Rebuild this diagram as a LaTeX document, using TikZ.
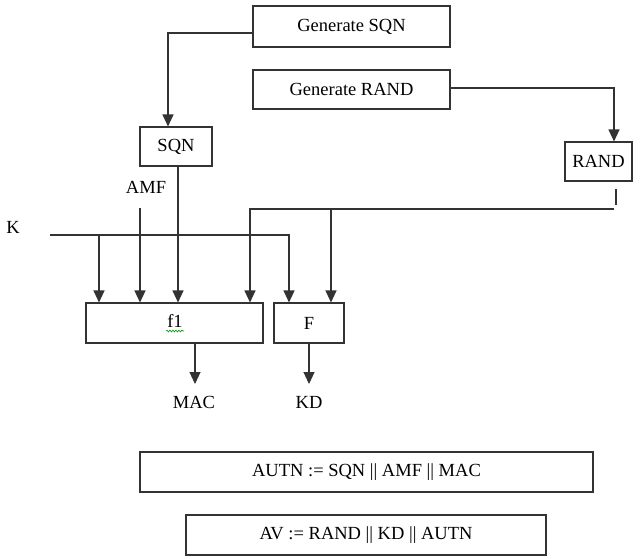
\documentclass[tikz,border=0pt]{standalone}
\usepackage{fontspec}
\setmainfont{Liberation Serif}
\usetikzlibrary{arrows.meta,decorations.pathmorphing}
\definecolor{ink}{HTML}{333333}
\tikzset{
  box/.style={draw=ink, line width=1.1pt, inner sep=0pt, font=\fontsize{18.5}{22}\selectfont},
  lbl/.style={inner sep=0pt, font=\fontsize{18.5}{22}\selectfont},
  wire/.style={draw=ink, line width=1.1pt},
  arr/.style={wire, -{Triangle[width=11pt,length=12pt]}},
}
\begin{document}
\begin{tikzpicture}[x=1pt, y=-1pt]
\useasboundingbox (0,0) rectangle (644,558);

% generators
\node[box, minimum width=197pt, minimum height=41pt] (gsqn)  at (351.5,26.5) {Generate SQN};
\node[box, minimum width=197pt, minimum height=39pt] (grand) at (351.5,89.5) {Generate RAND};

% stored values
\node[box, minimum width=72pt, minimum height=39pt] (sqn)  at (176,146.5) {SQN};
\node[box, minimum width=67pt, minimum height=39pt] (rand) at (598.5,161.5) {RAND};

% functions
\node[box, minimum width=177pt, minimum height=40pt] (f1) at (174.5,323) {};
\node[lbl] (f1txt) at (175,321) {f1};
\node[box, minimum width=70pt, minimum height=40pt] (F) at (309,323) {F};

% input labels
\node[lbl] (K)   at (13,227)  {K};
\node[lbl] (AMF) at (146,187) {AMF};

% outputs
\node[lbl] (MAC) at (194,402) {MAC};
\node[lbl] (KD)  at (309,402) {KD};

% results
\node[box, minimum width=453pt, minimum height=40pt] (autn) at (366.5,472) {AUTN := SQN || AMF || MAC};
\node[box, minimum width=360pt, minimum height=40pt] (av)   at (366,535)   {AV := RAND || KD || AUTN};

% spelling mark under f1
\draw[green!60!black, line width=0.6pt, decorate,
      decoration={snake, amplitude=0.9pt, segment length=3pt}]
  (166,331) -- (184,331);

% wire end points
\coordinate (kin)    at (50,235);
\coordinate (amfin)  at (140,208);
\coordinate (rtickA) at (616,189);
\coordinate (rtickB) at (616,205);
\coordinate (rbus)   at (614,209);

% generators to stored values
\draw[arr] ([yshift=-6.5pt]gsqn.west) -| ([xshift=-8pt]sqn.north);
\draw[arr] ([yshift=1.5pt]grand.east) -| ([xshift=15.5pt]rand.north);

% K bus
\draw[arr] (kin) -| ([xshift=-20pt]F.north);
\draw[arr] (kin -| 99,0) -- (f1.north -| 99,0);

% AMF and SQN into f1
\draw[arr] (amfin) -- (f1.north -| amfin);
\draw[arr] ([xshift=2pt]sqn.south) -- ([xshift=2pt]sqn.south |- f1.north);

% RAND bus
\draw[wire] (rtickA) -- (rtickB);
\draw[arr] (rbus) -| (f1.north -| 250,0);
\draw[arr] (rbus -| 331,0) -- (F.north -| 331,0);

% outputs
\draw[arr] ([xshift=20.5pt]f1.south) -- ([xshift=20.5pt]f1.south |- 0,384);
\draw[arr] (F.south) -- (F.south |- 0,384);
\end{tikzpicture}
\end{document}
